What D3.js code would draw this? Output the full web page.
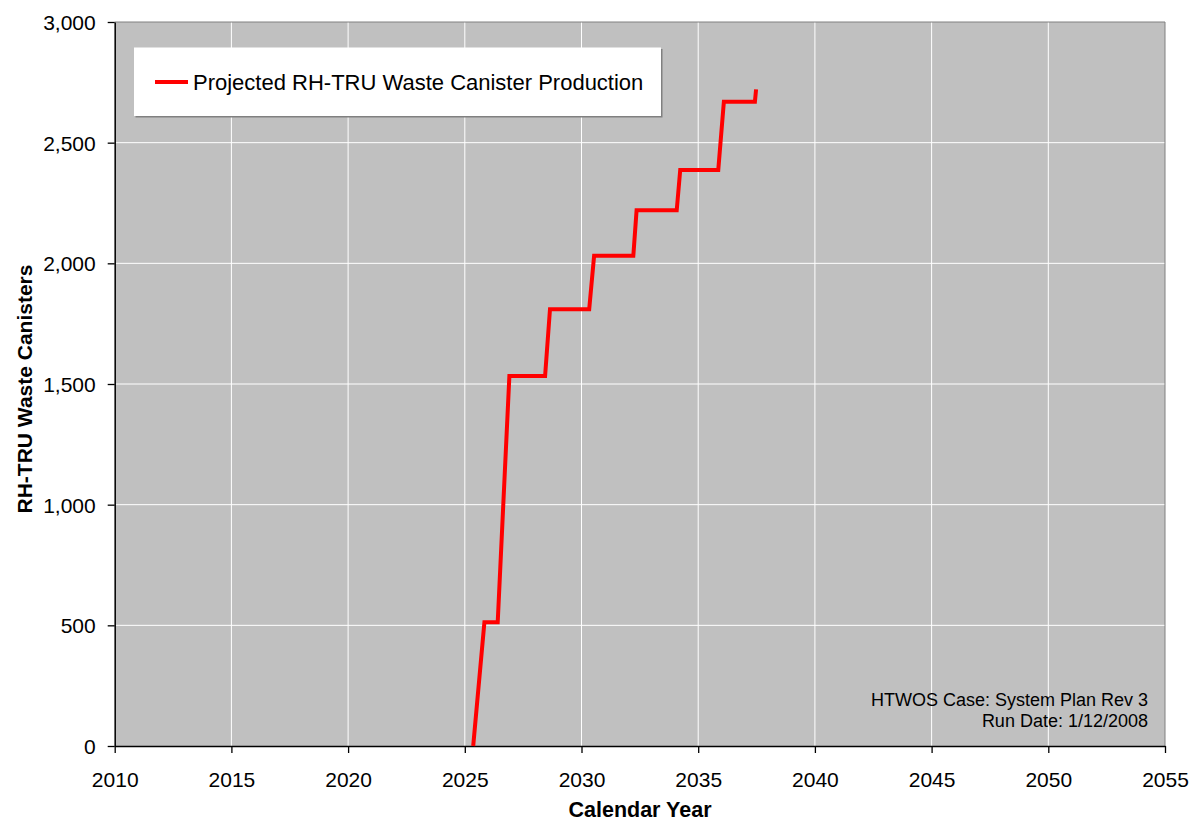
<!DOCTYPE html>
<html><head><meta charset="utf-8">
<script src="https://cdn.jsdelivr.net/npm/d3@7"></script>
<style>body{margin:0;background:#fff;} svg{display:block;font-family:"Liberation Sans",Arial,sans-serif;}</style>
</head><body>
<svg id="c" width="1192" height="822"></svg>
<script>
const years = [2025.36, 2025.84, 2026.41, 2026.91, 2028.44, 2028.65, 2030.33, 2030.54, 2032.22, 2032.36, 2034.08, 2034.23, 2035.86, 2036.10, 2037.43, 2037.48];
const canisters = [0, 513, 513, 1533, 1533, 1810, 1810, 2031, 2031, 2220, 2220, 2387, 2387, 2670, 2670, 2721];
const xTicks = [2010, 2015, 2020, 2025, 2030, 2035, 2040, 2045, 2050, 2055];
const yTicks = [0, 500, 1000, 1500, 2000, 2500, 3000];
const seriesName = "Projected RH-TRU Waste Canister Production";
const noteLines = ["HTWOS Case: System Plan Rev 3", "Run Date: 1/12/2008"];

const svg = d3.select("#c");
const L = 114.7, R = 1165, T = 22, B = 746;
const x = d3.scaleLinear().domain([2010, 2055]).range([L, R]);
const y = d3.scaleLinear().domain([0, 3000]).range([B, T]);

svg.append("rect").attr("x", L).attr("y", T).attr("width", R - L).attr("height", B - T).attr("fill", "#c0c0c0");

// grid
svg.append("g").selectAll("line").data(xTicks.slice(1, -1)).join("line")
  .attr("x1", d => x(d)).attr("x2", d => x(d)).attr("y1", T).attr("y2", B)
  .attr("stroke", "#fff").attr("stroke-width", 1);
svg.append("g").selectAll("line").data(yTicks.slice(1, -1)).join("line")
  .attr("y1", d => y(d)).attr("y2", d => y(d)).attr("x1", L).attr("x2", R)
  .attr("stroke", "#fff").attr("stroke-width", 1);

// border top/right
svg.append("path").attr("d", `M${L},${T}H${R}V${B}`).attr("fill", "none").attr("stroke", "#808080").attr("stroke-width", 1);

// axes
const xa = svg.append("g").attr("transform", `translate(0,${B})`)
  .call(d3.axisBottom(x).tickValues(xTicks).tickFormat(d3.format("d")).tickSize(7).tickSizeOuter(0));
const ya = svg.append("g").attr("transform", `translate(${L},0)`)
  .call(d3.axisLeft(y).tickValues(yTicks).tickFormat(d3.format(",")).tickSize(7).tickSizeOuter(0));
[xa, ya].forEach(a => {
  a.select(".domain").attr("stroke", "#000").attr("stroke-width", 1.5);
  a.selectAll(".tick line").attr("stroke", "#000").attr("stroke-width", 1.3);
  a.selectAll("text").attr("font-size", 21).attr("fill", "#000").attr("font-family", "'Liberation Sans',Arial,sans-serif");
});
xa.selectAll("text").attr("dy", 0).attr("y", 41);
ya.selectAll("text").attr("x", -19).attr("dy", "0.36em");

// line
svg.append("path").datum(years.map((d, i) => [d, canisters[i]]))
  .attr("d", d3.line().x(d => x(d[0])).y(d => y(d[1])))
  .attr("fill", "none").attr("stroke", "#ff0000").attr("stroke-width", 4).attr("stroke-linejoin", "miter");

// legend
svg.append("rect").attr("x", 135.5).attr("y", 49).attr("width", 527).attr("height", 68.5).attr("fill", "#808080");
svg.append("rect").attr("x", 134).attr("y", 47.5).attr("width", 527).attr("height", 68.5).attr("fill", "#fff");
svg.append("line").attr("x1", 155).attr("x2", 188).attr("y1", 82).attr("y2", 82).attr("stroke", "#ff0000").attr("stroke-width", 4);
svg.append("text").attr("x", 193).attr("y", 90).attr("font-size", 22).attr("fill", "#000").text(seriesName);

// note
svg.append("g").selectAll("text").data(noteLines).join("text")
  .attr("x", 1148).attr("y", (d, i) => 706 + i * 21).attr("text-anchor", "end")
  .attr("font-size", 18).attr("fill", "#000").text(d => d);

// axis titles
svg.append("text").attr("x", 640).attr("y", 817).attr("text-anchor", "middle")
  .attr("font-size", 21.5).attr("font-weight", "bold").text("Calendar Year");
svg.append("text").attr("transform", "translate(32,389) rotate(-90)").attr("text-anchor", "middle")
  .attr("font-size", 21).attr("font-weight", "bold").text("RH-TRU Waste Canisters");
</script>
</body></html>
